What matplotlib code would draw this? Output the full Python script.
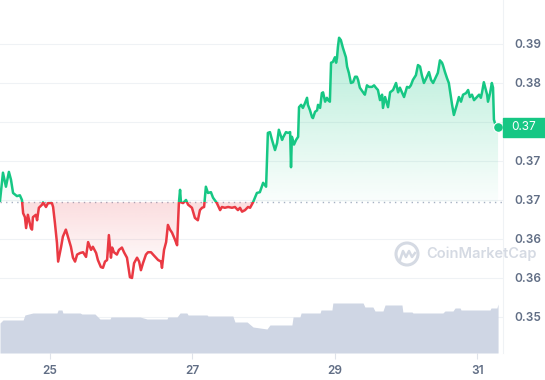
import numpy as np
import matplotlib
matplotlib.use("Agg")
import matplotlib.pyplot as plt
from matplotlib.path import Path
from matplotlib.patches import PathPatch, Rectangle, Circle
from matplotlib.ticker import FuncFormatter

plt.rcParams['font.family'] = ['Inter', 'DejaVu Sans']

# time of first sample (day of month) and hours after it
start_day = 24.298
hours = [
    0.0, 1.0, 2.0, 3.0, 3.7, 4.4, 5.7, 6.7, 7.4, 7.8,
    8.4, 8.8, 9.4, 10.4, 10.8, 11.1, 12.1, 12.5, 13.1, 14.2,
    14.5, 15.5, 16.2, 17.5, 17.9, 18.5, 19.2, 19.6, 20.6, 21.2,
    22.2, 22.9, 23.9, 24.6, 25.3, 26.0, 27.0, 28.0, 29.0, 29.7,
    30.7, 31.3, 32.4, 33.0, 34.0, 34.7, 35.4, 36.1, 36.7, 37.4,
    37.8, 38.4, 39.4, 40.1, 41.1, 41.8, 42.8, 43.8, 44.5, 45.2,
    46.2, 46.9, 47.5, 48.2, 49.2, 49.9, 50.9, 51.6, 52.6, 53.3,
    54.3, 54.6, 55.3, 56.0, 56.6, 57.3, 58.0, 59.0, 59.7, 60.3,
    60.7, 61.0, 61.7, 62.7, 63.4, 64.7, 65.7, 66.7, 67.4, 68.1,
    68.8, 69.4, 70.1, 71.1, 71.8, 73.1, 74.2, 74.8, 75.8, 76.9,
    78.2, 79.2, 80.2, 80.9, 81.6, 82.6, 83.6, 84.3, 85.3, 86.6,
    87.6, 88.7, 89.7, 90.3, 91.0, 91.7, 92.7, 93.4, 94.0, 95.1,
    95.4, 96.4, 97.1, 97.8, 98.1, 98.4, 99.1, 99.8, 100.5, 100.8,
    101.5, 102.1, 102.8, 103.5, 103.8, 104.5, 105.2, 105.5, 106.2, 106.9,
    107.2, 107.9, 108.5, 108.9, 109.6, 110.2, 110.6, 111.2, 111.6, 112.2,
    112.9, 113.3, 113.6, 113.9, 114.3, 114.9, 115.6, 116.6, 117.0, 117.6,
    118.3, 119.0, 119.7, 120.3, 120.7, 121.3, 122.4, 123.0, 123.7, 124.4,
    125.4, 126.1, 126.7, 127.4, 128.1, 128.8, 129.1, 129.8, 130.8, 131.5,
    132.5, 133.5, 134.2, 134.8, 135.5, 136.2, 137.2, 137.9, 138.5, 139.2,
    140.2, 140.9, 141.6, 142.2, 142.9, 143.9, 144.6, 145.3, 146.0, 147.0,
    147.6, 148.3, 149.0, 149.3, 150.0, 150.7, 151.3, 152.0, 152.4, 153.0,
    154.0, 154.7, 155.4, 156.1, 157.1, 157.8, 158.4, 159.1, 159.8, 160.8,
    161.5, 162.1, 162.5, 163.1, 164.2, 164.5, 165.2, 165.8, 166.2, 166.5,
    167.2, 167.9,
]
price = [
    0.3699, 0.3735, 0.3717, 0.3736, 0.3726, 0.3709, 0.3705, 0.3706, 0.3700, 0.3683,
    0.3678, 0.3664, 0.3681, 0.3664, 0.3662, 0.3678, 0.3681, 0.3674, 0.3690, 0.3694,
    0.3697, 0.3691, 0.3696, 0.3696, 0.3691, 0.3671, 0.3645, 0.3621, 0.3640, 0.3653,
    0.3662, 0.3653, 0.3640, 0.3626, 0.3621, 0.3630, 0.3632, 0.3633, 0.3627, 0.3646,
    0.3636, 0.3640, 0.3632, 0.3623, 0.3614, 0.3613, 0.3621, 0.3623, 0.3655, 0.3626,
    0.3639, 0.3633, 0.3630, 0.3636, 0.3639, 0.3633, 0.3626, 0.3601, 0.3600, 0.3619,
    0.3626, 0.3621, 0.3610, 0.3619, 0.3630, 0.3633, 0.3633, 0.3630, 0.3626, 0.3623,
    0.3621, 0.3613, 0.3636, 0.3646, 0.3668, 0.3662, 0.3658, 0.3649, 0.3642, 0.3696,
    0.3713, 0.3697, 0.3696, 0.3700, 0.3694, 0.3690, 0.3677, 0.3674, 0.3687, 0.3690,
    0.3691, 0.3717, 0.3709, 0.3710, 0.3703, 0.3696, 0.3687, 0.3691, 0.3690, 0.3691,
    0.3690, 0.3691, 0.3687, 0.3690, 0.3685, 0.3687, 0.3691, 0.3690, 0.3697, 0.3709,
    0.3710, 0.3722, 0.3717, 0.3786, 0.3787, 0.3777, 0.3764, 0.3773, 0.3790, 0.3777,
    0.3780, 0.3787, 0.3786, 0.3787, 0.3742, 0.3781, 0.3771, 0.3777, 0.3781, 0.3819,
    0.3822, 0.3818, 0.3824, 0.3831, 0.3822, 0.3815, 0.3806, 0.3805, 0.3813, 0.3815,
    0.3822, 0.3818, 0.3837, 0.3838, 0.3826, 0.3831, 0.3828, 0.3826, 0.3876, 0.3877,
    0.3883, 0.3876, 0.3882, 0.3896, 0.3908, 0.3905, 0.3895, 0.3883, 0.3871, 0.3863,
    0.3850, 0.3851, 0.3858, 0.3858, 0.3854, 0.3844, 0.3838, 0.3835, 0.3847, 0.3845,
    0.3845, 0.3847, 0.3844, 0.3841, 0.3828, 0.3835, 0.3818, 0.3832, 0.3819, 0.3838,
    0.3841, 0.3850, 0.3838, 0.3844, 0.3838, 0.3832, 0.3845, 0.3844, 0.3847, 0.3854,
    0.3860, 0.3873, 0.3871, 0.3860, 0.3850, 0.3858, 0.3864, 0.3854, 0.3850, 0.3858,
    0.3863, 0.3879, 0.3876, 0.3873, 0.3864, 0.3856, 0.3850, 0.3832, 0.3822, 0.3809,
    0.3822, 0.3832, 0.3826, 0.3835, 0.3837, 0.3841, 0.3832, 0.3835, 0.3828, 0.3832,
    0.3835, 0.3831, 0.3838, 0.3851, 0.3835, 0.3826, 0.3837, 0.3850, 0.3844, 0.3803,
    0.3794, 0.3794,
]

# volume profile (arbitrary units, axis hidden)
vol_hours = [0.0, 1.0, 7.8, 8.4, 11.1, 19.2, 19.6, 20.9, 21.2, 27.0,
             27.6, 32.0, 33.7, 37.1, 37.4, 47.2, 49.6, 56.3, 56.6, 59.7,
             60.7, 63.0, 63.4, 69.8, 70.1, 78.5, 79.2, 83.3, 85.3, 90.0,
             91.0, 98.4, 98.8, 101.1, 101.5, 107.9, 108.2, 111.9, 112.2, 122.4,
             123.0, 125.7, 126.4, 129.1, 129.8, 135.5, 135.8, 138.9, 139.2, 149.3,
             150.0, 152.7, 153.4, 155.1, 155.4, 165.2, 165.5, 167.5, 167.9]
volume = [30, 33, 33, 38, 40, 40, 43, 43, 40, 40,
          39, 39, 34, 34, 36, 36, 34, 34, 36, 36,
          40, 40, 38, 38, 37, 37, 31, 31, 26, 24,
          28, 28, 36, 36, 40, 40, 43, 43, 50, 50,
          46, 46, 42, 42, 48, 48, 41, 41, 40, 40,
          42, 42, 45, 45, 43, 43, 45, 45, 49]

open_price = 0.3697
last_label = "0.37"
x_ticks = [25, 27, 29, 31]
y_ticks = [0.355, 0.36, 0.365, 0.37, 0.375, 0.38, 0.385, 0.39]

GREEN = '#16c784'
RED = '#ea3943'
GREY = '#616e85'

t = start_day + np.array(hours) / 24.0
p = np.array(price)
tv = start_day + np.array(vol_hours) / 24.0

xlim = (24.298, 31.363)
ylim = (0.35038, 0.39564)

fig = plt.figure(figsize=(5.45, 3.8), dpi=100)
ax = fig.add_axes([0, 27 / 380, 503 / 545, 353 / 380])
axv = fig.add_axes([0, 27 / 380, 503 / 545, 100 / 380], zorder=2)
axv.patch.set_alpha(0)

# volume
axv.fill_between(tv, volume, 0, color='#cfd6e4', lw=0)
axv.set_xlim(*xlim)
axv.set_ylim(0, 100)
axv.axis('off')

# grid + dotted open line
for yv in y_ticks:
    ax.axhline(yv, color='#eff2f5', lw=0.8, zorder=0)
ax.axhline(open_price, color='#a6b0c3', lw=1.0, ls=(0, (1, 3)), zorder=1)

# gradient fills above / below the open price
def grad_fill(where, rgb, a_lo, a_hi, y0, y1):
    poly = ax.fill_between(t, p, open_price, where=where, interpolate=True,
                           facecolor='none', edgecolor='none')
    clip = Path.make_compound_path(*poly.get_paths())
    patch = PathPatch(clip, transform=ax.transData, facecolor='none', edgecolor='none')
    ax.add_patch(patch)
    g = np.zeros((256, 1, 4))
    g[..., :3] = matplotlib.colors.to_rgb(rgb)
    g[:, 0, 3] = np.linspace(a_lo, a_hi, 256)
    im = ax.imshow(g, extent=[xlim[0], xlim[1], y0, y1], origin='lower',
                   aspect='auto', zorder=1, interpolation='bilinear')
    im.set_clip_path(patch)

grad_fill(p >= open_price, GREEN, 0.02, 0.32, open_price, p.max())
grad_fill(p <= open_price, RED, 0.0, 0.17, p.min(), open_price)

# price line, green above and red below the open
lg, = ax.plot(t, p, color=GREEN, lw=1.8, zorder=3, solid_joinstyle='round')
lg.set_clip_path(Rectangle((xlim[0], open_price), 10, 1, transform=ax.transData))
lr, = ax.plot(t, p, color=RED, lw=1.8, zorder=3, solid_joinstyle='round')
lr.set_clip_path(Rectangle((xlim[0], 0), 10, open_price, transform=ax.transData))
ax.plot(t[-1], p[-1], 'o', color=GREEN, ms=7, mec='white', mew=0.8, zorder=4)

ax.set_xlim(*xlim)
ax.set_ylim(*ylim)


def ylab(v, pos):
    # the 0.380 label sits under the current price tag
    if abs(v - 0.38) < 1e-6:
        return ""
    return f"{np.floor(v * 100 + 1e-6) / 100:.2f}"


ax.yaxis.tick_right()
ax.set_yticks(y_ticks)
ax.yaxis.set_major_formatter(FuncFormatter(ylab))
ax.tick_params(axis='y', length=0, pad=8, labelsize=8.5, labelcolor=GREY)
ax.set_xticks(x_ticks)
ax.tick_params(axis='x', length=4, width=0.8, color='#dfe3ea', pad=5,
               labelsize=8.5, labelcolor=GREY)
for lab in ax.get_xticklabels() + ax.get_yticklabels():
    lab.set_fontweight('semibold')
for s in ['top', 'left', 'bottom']:
    ax.spines[s].set_visible(False)
ax.spines['right'].set_color('#eff2f5')

# current price tag
fig.add_artist(Rectangle((503, 243), 42, 19, transform=None, color=GREEN, zorder=5))
fig.text(524, 252.5, last_label, transform=None, color='white', fontsize=8.5,
         ha='center', va='center', zorder=6)

# watermark
fig.add_artist(Circle((407, 126), 11, transform=None, fill=False,
                      ec='#d5dae3', lw=2.2, zorder=5))
fig.add_artist(plt.Line2D([400, 403, 406, 409, 412, 415], [120, 129, 123, 129, 123, 127],
                          transform=None, color='#d5dae3', lw=1.8, zorder=5))
fig.text(426, 126, "CoinMarketCap", transform=None, color='#d5dae3',
         fontsize=10.5, fontweight='semibold', va='center', ha='left', zorder=5)

fig.savefig('out.png', dpi=100, facecolor='white')
